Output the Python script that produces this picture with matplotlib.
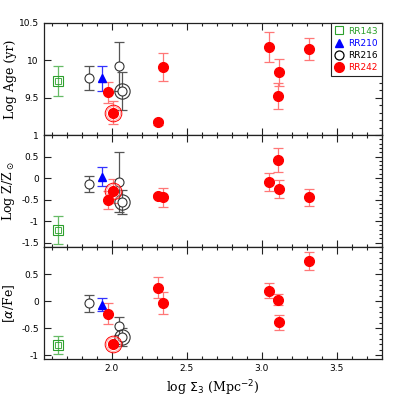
import matplotlib
matplotlib.use("Agg")
import matplotlib.pyplot as plt
from matplotlib.ticker import MultipleLocator
from matplotlib.lines import Line2D

# DATA
names = ["RR143", "RR210", "RR216", "RR242"]

x_143 = [1.643]
age_143 = [9.72]
age_err_143 = [0.20]
z_143 = [-1.20]
z_err_143 = [0.33]
afe_143 = [-0.81]
afe_err_143 = [0.16]

x_210 = [1.938]
age_210 = [9.76]
age_err_210 = [0.17]
z_210 = [0.03]
z_err_210 = [0.22]
afe_210 = [-0.07]
afe_err_210 = [0.12]

x_216 = [1.849, 2.049, 2.071]
age_216 = [9.76, 9.92, 9.59]
age_err_216 = [0.16, 0.33, 0.26]
z_216 = [-0.14, -0.09, -0.55]
z_err_216 = [0.19, 0.70, 0.28]
afe_216 = [-0.04, -0.46, -0.66]
afe_err_216 = [0.16, 0.17, 0.17]
ring_216 = [False, False, True]

x_242 = [1.977, 2.011, 2.311, 2.344, 3.049, 3.107, 3.117, 3.317]
age_242 = [9.57, 9.30, 9.17, 9.91, 10.18, 9.52, 9.84, 10.15]
age_err_242 = [0.14, 0.15, 0.03, 0.19, 0.20, 0.17, 0.18, 0.15]
z_242 = [-0.51, -0.29, -0.41, -0.45, -0.09, 0.42, -0.26, -0.45]
z_err_242 = [0.20, 0.28, 0.05, 0.23, 0.21, 0.29, 0.21, 0.20]
afe_242 = [-0.23, -0.80, 0.25, -0.03, 0.19, 0.03, -0.39, 0.74]
afe_err_242 = [0.19, 0.05, 0.19, 0.20, 0.14, 0.10, 0.14, 0.16]
ring_242 = [False, True, False, False, False, False, False, False]

GREEN = "#2ca02c"
BLUE = "#0000ff"
RED = "#ff0000"

fig = plt.figure(figsize=(4.03, 4.03), dpi=100)
gs = fig.add_gridspec(3, 1, left=0.1085, right=0.947, top=0.943, bottom=0.109, hspace=0)
axes = [fig.add_subplot(gs[i]) for i in range(3)]

panels = [
    (age_143, age_err_143, age_210, age_err_210, age_216, age_err_216, age_242, age_err_242),
    (z_143, z_err_143, z_210, z_err_210, z_216, z_err_216, z_242, z_err_242),
    (afe_143, afe_err_143, afe_210, afe_err_210, afe_216, afe_err_216, afe_242, afe_err_242),
]
ylims = [(9.0, 10.5), (-1.6, 1.0), (-1.07, 1.0)]
yticks = [[9.5, 10, 10.5], [-1.5, -1, -0.5, 0, 0.5, 1], [-1, -0.5, 0, 0.5]]
ylabels = ["Log Age (yr)", r"Log Z/Z$_\odot$", r"[$\alpha$/Fe]"]

for ax, data, ylim, yt, yl in zip(axes, panels, ylims, yticks, ylabels):
    y143, e143, y210, e210, y216, e216, y242, e242 = data

    # error bars
    ax.errorbar(x_143, y143, yerr=e143, fmt="none", ecolor="#66bb66", elinewidth=0.9, capsize=3.5, capthick=0.9, zorder=2)
    ax.errorbar(x_210, y210, yerr=e210, fmt="none", ecolor="#3333ff", elinewidth=0.9, capsize=3.5, capthick=0.9, zorder=2)
    ax.errorbar(x_216, y216, yerr=e216, fmt="none", ecolor="#555555", elinewidth=0.9, capsize=3.5, capthick=0.9, zorder=2)
    ax.errorbar(x_242, y242, yerr=e242, fmt="none", ecolor="#ff7777", elinewidth=0.9, capsize=3.5, capthick=0.9, zorder=2)

    # markers
    ax.plot(x_143, y143, "s", ms=6.5, mfc="none", mec=GREEN, mew=0.8, zorder=3)
    ax.plot(x_143, y143, "s", ms=4, mfc="none", mec=GREEN, mew=0.6, zorder=3)
    ax.plot(x_210, y210, "^", ms=5.5, color=BLUE, zorder=3)
    ax.plot(x_216, y216, "o", ms=6.5, mfc="white", mec="#333333", mew=0.8, zorder=3)
    ax.plot(x_242, y242, "o", ms=7, color=RED, zorder=4)

    # ringed points
    rx = [x for x, r in zip(x_216, ring_216) if r]
    ry = [y for y, r in zip(y216, ring_216) if r]
    ax.plot(rx, ry, "o", ms=11, mfc="none", mec="#333333", mew=0.8, zorder=3)
    rx = [x for x, r in zip(x_242, ring_242) if r]
    ry = [y for y, r in zip(y242, ring_242) if r]
    ax.plot(rx, ry, "o", ms=12, mfc="none", mec=RED, mew=0.7, zorder=3)
    ax.plot(rx, ry, "o", ms=10, mfc="none", mec="#ff8888", mew=0.5, zorder=3)

    ax.set_xlim(1.547, 3.8)
    ax.set_ylim(*ylim)
    ax.set_yticks(yt)
    ax.set_yticklabels([f"{v:g}" for v in yt])
    ax.xaxis.set_major_locator(MultipleLocator(0.5))
    ax.xaxis.set_minor_locator(MultipleLocator(0.1))
    ax.yaxis.set_minor_locator(MultipleLocator(0.1))
    ax.tick_params(which="both", direction="in", top=True, right=True, labelsize=6.5, width=0.8, color="#222222")
    ax.tick_params(which="major", length=5)
    ax.tick_params(which="minor", length=2.5, left=False)
    ax.set_ylabel(yl, family="DejaVu Serif", fontsize=9)
    ax.yaxis.set_label_coords(-0.078, 0.5)
    for s in ax.spines.values():
        s.set_linewidth(0.9)
        s.set_color("#222222")

for ax in axes[:2]:
    ax.tick_params(labelbottom=False)

axes[2].set_xlabel(r"log $\Sigma_3$ (Mpc$^{-2}$)", family="DejaVu Serif", fontsize=9)

# legend
handles = [
    Line2D([], [], ls="none", marker="s", ms=6, mfc="none", mec=GREEN, mew=0.8),
    Line2D([], [], ls="none", marker="^", ms=6, color=BLUE),
    Line2D([], [], ls="none", marker="o", ms=6.5, mfc="none", mec="black", mew=0.9),
    Line2D([], [], ls="none", marker="o", ms=7, color=RED),
]
leg = axes[0].legend(handles, names, loc="upper right", fontsize=6.5, borderaxespad=0,
                     fancybox=False, framealpha=1, handlelength=1.0, handletextpad=0.5,
                     labelspacing=0.35, borderpad=0.4)
leg.get_frame().set_edgecolor("#222222")
leg.get_frame().set_linewidth(0.8)
for t, c in zip(leg.get_texts(), [GREEN, BLUE, "black", RED]):
    t.set_color(c)

fig.savefig("out.png", dpi=100)
